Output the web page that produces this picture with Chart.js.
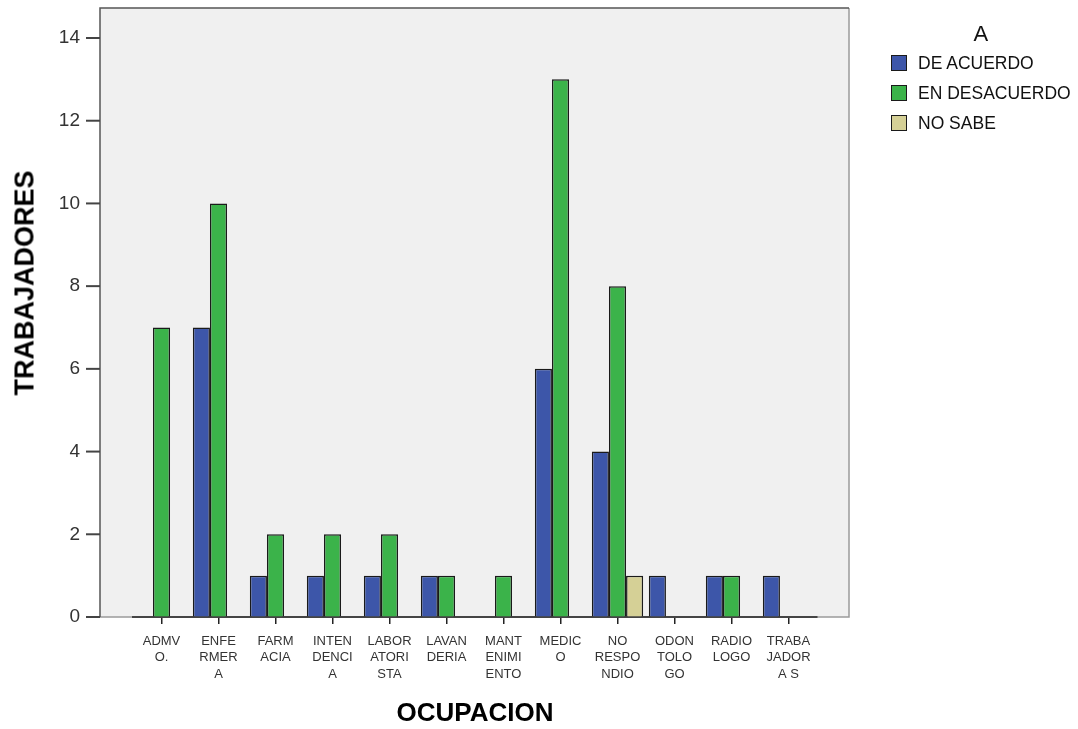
<!DOCTYPE html>
<html>
<head>
<meta charset="utf-8">
<script src="https://cdn.jsdelivr.net/npm/chart.js@4.4.1/dist/chart.umd.min.js"></script>
<style>
  body { margin: 0; background: #fff; font-family: Arial, "Liberation Sans", sans-serif; }
  #wrap { position: relative; width: 1078px; height: 729px; }
  #ytitle {
    position: absolute; left: 25px; top: 283px;
    transform: translate(-50%, -50%) rotate(-90deg);
    font-weight: bold; font-size: 27px; color: #000; white-space: nowrap;
  }
  #legend { position: absolute; left: 891px; top: 22px; color: #111; }
  #legend .ttl { text-align: center; font-size: 22px; line-height: 24px; margin-bottom: 2px; }
  #legend .row { display: flex; align-items: center; height: 30px; font-size: 17.5px; }
  #legend .box { width: 14px; height: 14px; border: 1.5px solid #1a1a1a; margin-right: 11px; }
</style>
</head>
<body>
<div id="wrap">
  <canvas id="myChart" width="1078" height="729"></canvas>
  <div id="ytitle">TRABAJADORES</div>
  <div id="legend"></div>
</div>
<script>
const labels = [
    ['ADMV', 'O.'],
    ['ENFE', 'RMER', 'A'],
    ['FARM', 'ACIA'],
    ['INTEN', 'DENCI', 'A'],
    ['LABOR', 'ATORI', 'STA'],
    ['LAVAN', 'DERIA'],
    ['MANT', 'ENIMI', 'ENTO'],
    ['MEDIC', 'O'],
    ['NO', 'RESPO', 'NDIO'],
    ['ODON', 'TOLO', 'GO'],
    ['RADIO', 'LOGO'],
    ['TRABA', 'JADOR', 'A S']
];
const deAcuerdo = [null, 7, 1, 1, 1, 1, null, 6, 4, 1, 1, 1];
const enDesacuerdo = [7, 10, 2, 2, 2, 1, 1, 13, 8, null, 1, null];
const noSabe = [null, null, null, null, null, null, null, null, 1, null, null, null];
const yTicks = [0, 2, 4, 6, 8, 10, 12, 14];

const font = "Arial, 'Liberation Sans', sans-serif"

const data = {
    labels: labels,
    datasets: [{
        label: 'DE ACUERDO',
        backgroundColor: '#3d56a9',
        data: deAcuerdo,
    }, {
        label: 'EN DESACUERDO',
        backgroundColor: '#3bb34a',
        data: enDesacuerdo,
    }, {
        label: 'NO SABE',
        backgroundColor: '#d5d096',
        data: noSabe,
    }]
};

// gray plot frame, wider than the bar area like SPSS draws it
const frame = {
    id: 'frame',
    beforeDraw(chart) {
        const a = chart.chartArea
        const ctx = chart.ctx
        const l = a.left - 33, r = a.right + 32, t = a.top - 30, b = a.bottom
        ctx.save()
        ctx.fillStyle = '#f0f0f0'
        ctx.fillRect(l, t, r - l, b - t)
        ctx.lineWidth = 1.5
        ctx.strokeStyle = '#9a9a9a'
        ctx.beginPath()
        ctx.moveTo(r, t); ctx.lineTo(r, b); ctx.lineTo(l, b)
        ctx.stroke()
        ctx.strokeStyle = '#555'
        ctx.beginPath()
        ctx.moveTo(l, b); ctx.lineTo(l, t); ctx.lineTo(r, t)
        ctx.stroke()
        // y tick marks sit on the frame's left edge
        const ys = chart.scales.y
        ctx.strokeStyle = '#444'
        ctx.lineWidth = 2
        for (const tk of ys.ticks) {
            const y = ys.getPixelForValue(tk.value)
            ctx.beginPath()
            ctx.moveTo(l - 14, y); ctx.lineTo(l, y)
            ctx.stroke()
        }
        ctx.restore()
    }
}

const config = {
    type: 'bar',
    data: data,
    options: {
        responsive: false,
        animation: false,
        layout: { padding: { top: 38, right: 261, left: 0, bottom: 0 } },
        datasets: {
            bar: {
                categoryPercentage: 0.9,
                barPercentage: 1.0,
                borderColor: '#1a1a1a',
                borderWidth: 1.5,
            }
        },
        plugins: {
            legend: { display: false },
            tooltip: { enabled: false }
        },
        scales: {
            x: {
                afterFit(scale) { scale.height = 112 },
                grid: {
                    display: true,
                    drawOnChartArea: false,
                    drawTicks: true,
                    tickLength: 7,
                    offset: false,
                    color: '#222',
                    lineWidth: 1.5
                },
                border: { display: true, color: '#444', width: 2 },
                ticks: {
                    color: '#333',
                    padding: 9,
                    maxRotation: 0,
                    autoSkip: false,
                    font: { family: font, size: 13, lineHeight: 1.27 }
                },
                title: {
                    display: true,
                    text: 'OCUPACION',
                    color: '#000',
                    padding: { top: 0, bottom: 0 },
                    font: { family: font, size: 26, weight: 'bold' }
                }
            },
            y: {
                min: 0,
                max: 14,
                afterFit(scale) { scale.width = 133 },
                afterBuildTicks(scale) { scale.ticks = yTicks.map(v => ({ value: v })) },
                // invisible long ticks push the labels out to the frame edge
                grid: {
                    display: true,
                    drawOnChartArea: false,
                    drawTicks: true,
                    tickLength: 50,
                    color: 'rgba(0,0,0,0)'
                },
                border: { display: false },
                ticks: {
                    color: '#333',
                    padding: 3,
                    font: { family: font, size: 19 }
                }
            }
        }
    },
    plugins: [frame]
};

const myChart = new Chart(
    document.getElementById('myChart'),
    config
);

// legend as html, built from the datasets
const legendEl = document.getElementById('legend')
let html = '<div class="ttl">A</div>'
for (const ds of myChart.data.datasets) {
    html += '<div class="row"><span class="box" style="background:' + ds.backgroundColor + '"></span>' + ds.label + '</div>'
}
legendEl.innerHTML = html
</script>
</body>
</html>
